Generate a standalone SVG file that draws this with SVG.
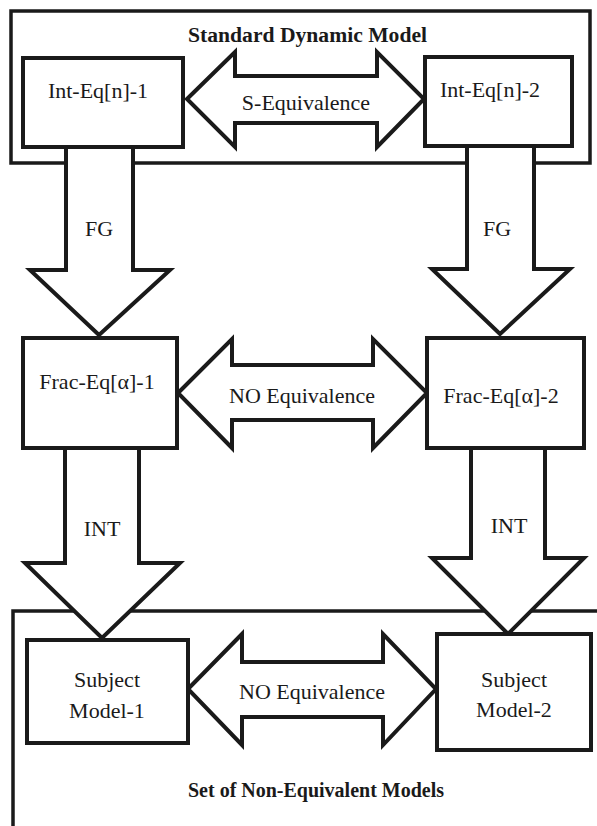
<svg xmlns="http://www.w3.org/2000/svg" width="597" height="826" viewBox="0 0 597 826">
<style>
.frame{fill:none;stroke:#1a1a1a;stroke-width:3.5}
.arrow{fill:#fff;stroke:#1a1a1a;stroke-width:4;stroke-linejoin:miter}
.box{fill:#fff;stroke:#1a1a1a;stroke-width:4}
.lbl{font-family:"Liberation Serif","Times New Roman",serif;font-size:22px;fill:#1a1a1a;text-anchor:middle}
.title{font-family:"Liberation Serif","Times New Roman",serif;font-size:20px;font-weight:bold;fill:#1a1a1a}
</style>
<rect width="597" height="826" fill="#fff"/>
<g id="frame-standard">
<rect class="frame" x="11" y="11" width="579" height="152"/>
<text class="title" x="188" y="42" textLength="239" lengthAdjust="spacingAndGlyphs">Standard Dynamic Model</text>
</g>
<g id="frame-nonequivalent">
<path class="frame" d="M13 830 V611 H600"/>
<text class="title" x="188" y="797" textLength="256" lengthAdjust="spacingAndGlyphs">Set of Non-Equivalent Models</text>
</g>
<g id="connectors">
<g id="fg-1">
<polygon class="arrow" points="66,147 66,270 30,270 99,335 170,270 133,270 133,147"/>
<text class="lbl" x="99" y="236">FG</text>
</g>
<g id="fg-2">
<polygon class="arrow" points="467,146 467,269 432,269 500,334 570,269 534,269 534,146"/>
<text class="lbl" x="497" y="236">FG</text>
</g>
<g id="int-1">
<polygon class="arrow" points="65,448 65,563 25,563 102,638 180,563 139,563 139,448"/>
<text class="lbl" x="102" y="536">INT</text>
</g>
<g id="int-2">
<polygon class="arrow" points="471,448 471,558 432,558 508,634 584,558 545,558 545,448"/>
<text class="lbl" x="509" y="533">INT</text>
</g>
<g id="s-equivalence">
<polygon class="arrow" points="187,99 235,52 235,76 377,76 377,52 424,99 377,147 377,123 235,123 235,147"/>
<text class="lbl" x="306" y="110">S-Equivalence</text>
</g>
<g id="no-equivalence-1">
<polygon class="arrow" points="178,393 232,339 232,365 373,365 373,339 427,393 373,448 373,420 232,420 232,448"/>
<text class="lbl" x="302" y="403">NO Equivalence</text>
</g>
<g id="no-equivalence-2">
<polygon class="arrow" points="188,689 242,634 242,662 383,662 383,634 436,689 383,745 383,717 242,717 242,745"/>
<text class="lbl" x="312" y="699">NO Equivalence</text>
</g>
</g>
<g id="int-eq-1">
<rect class="box" x="23" y="58" width="160" height="89"/>
<text class="lbl" x="98" y="98">Int-Eq[n]-1</text>
</g>
<g id="int-eq-2">
<rect class="box" x="425" y="57" width="147" height="89"/>
<text class="lbl" x="490" y="97">Int-Eq[n]-2</text>
</g>
<g id="frac-eq-1">
<rect class="box" x="23" y="338" width="154" height="110"/>
<text class="lbl" x="97" y="389">Frac-Eq[α]-1</text>
</g>
<g id="frac-eq-2">
<rect class="box" x="427" y="338" width="157" height="110"/>
<text class="lbl" x="501" y="403">Frac-Eq[α]-2</text>
</g>
<g id="subject-model-1">
<rect class="box" x="27" y="640" width="161" height="103"/>
<text class="lbl" x="107" y="687">Subject</text>
<text class="lbl" x="107" y="718">Model-1</text>
</g>
<g id="subject-model-2">
<rect class="box" x="437" y="634" width="154" height="116"/>
<text class="lbl" x="514" y="687">Subject</text>
<text class="lbl" x="514" y="717">Model-2</text>
</g>
</svg>
